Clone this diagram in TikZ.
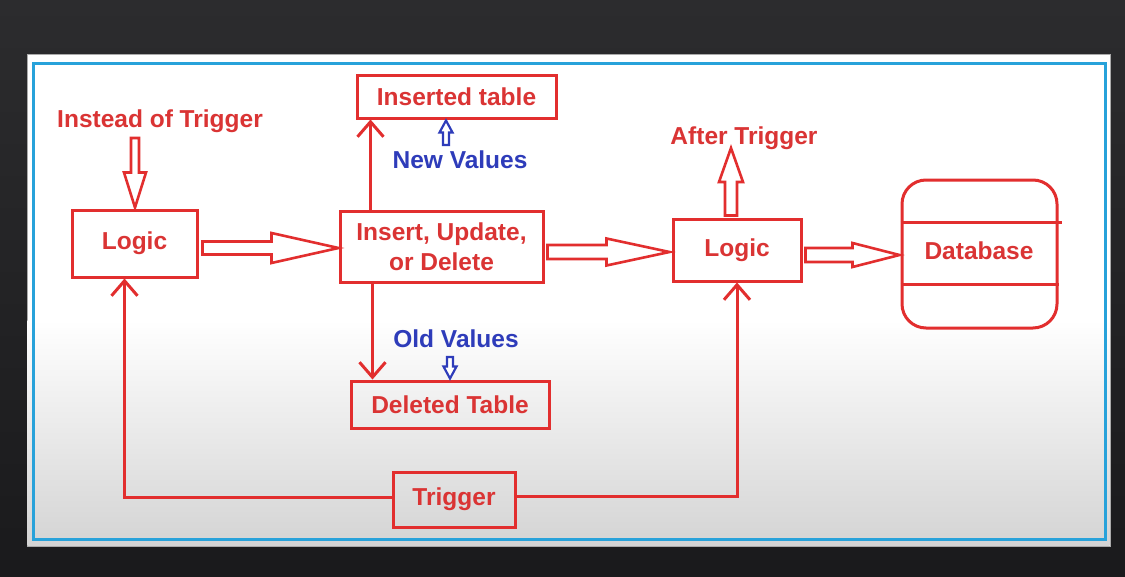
\documentclass[tikz,border=0pt]{standalone}
\usepackage{fontspec}
\setmainfont{Liberation Sans}
\usetikzlibrary{arrows.meta,calc}
\definecolor{dred}{RGB}{226,46,46}
\definecolor{tred}{RGB}{218,52,52}
\definecolor{dblue}{RGB}{46,60,186}
\definecolor{frameblue}{RGB}{40,162,218}
\definecolor{bgtop}{RGB}{44,44,46}
\definecolor{bgbot}{RGB}{26,26,28}
\definecolor{panelgray}{RGB}{212,212,212}
\newcommand\holarrow[6]{%
  \draw[#6] let \p1=(#1), \p2=(#2), \p3=($(#2)!#5!(#1)$) in
  ($(\p1)!#3!90:(\p2)$) -- ($(\p3)!#3!90:(\p2)$) -- ($(\p3)!#4!90:(\p2)$) -- (\p2)
  -- ($(\p3)!#4!-90:(\p2)$) -- ($(\p3)!#3!-90:(\p2)$) -- ($(\p1)!#3!-90:(\p2)$) -- cycle;}
\tikzset{
  box/.style={draw=dred, line width=3pt, inner sep=0pt, text=tred,
    font=\bfseries\fontsize{24.5}{30}\selectfont, align=center},
  lbl/.style={inner sep=0pt, text=tred, font=\bfseries\fontsize{24.5}{30}\selectfont},
  blbl/.style={inner sep=0pt, text=dblue, font=\bfseries\fontsize{24.5}{30}\selectfont},
  hol/.style={draw=dred, line width=2.6pt, line join=miter, fill=white},
  bhol/.style={draw=dblue, line width=2.2pt, line join=miter, fill=white},
  barb/.style={draw=dred, line width=3pt, -{Straight Barb[length=15pt,width=26pt]}},
  conn/.style={draw=dred, line width=3pt}
}
\begin{document}
\begin{tikzpicture}[x=1pt,y=-1pt]
\useasboundingbox (0,0) rectangle (1125,576);
% background
\shade[top color=bgtop, bottom color=bgbot] (0,0) rectangle (1125,576);
\fill[white, draw={rgb,255:red,170;green,170;blue,170}, line width=1pt] (27,54) rectangle (1110,546);
\shade[top color=white, bottom color=panelgray] (27.5,320) rectangle (1109.5,545.5);
\draw[frameblue, line width=3pt] (33,63) rectangle (1105,539);

% nodes
\node[box, minimum width=125pt, minimum height=67pt] (logicA) at (134.5,243.5) {Logic};
\node[box, minimum width=203pt, minimum height=71pt] (iud) at (441.5,246.5) {Insert, Update,\\or Delete};
\node[box, minimum width=199pt, minimum height=43pt] (ins) at (456.5,96.5) {Inserted table};
\node[box, minimum width=198pt, minimum height=47pt] (del) at (450,404.5) {Deleted Table};
\node[box, minimum width=128pt, minimum height=62pt] (logicB) at (737,250) {Logic};
\node[box, minimum width=155pt, minimum height=148pt, rounded corners=24pt] (db) at (979.5,254) {};
\node[lbl] (dbtxt) at (979,251) {Database};
\node[box, minimum width=122pt, minimum height=55pt] (trig) at (454,499.5) {Trigger};

\node[lbl] (lblInstead) at (160,121) {Instead of Trigger};
\node[lbl] (lblAfter) at (744,138) {After Trigger};
\node[blbl] (lblNew) at (460,160) {New Values};
\node[blbl] (lblOld) at (456,339) {Old Values};

% database lines
\draw[conn] ([yshift=32pt]db.west) -- ([shift={(3pt,32pt)}]db.east);
\draw[conn] ([yshift=-30pt]db.west) -- ([yshift=-30pt]db.east);

% hollow arrows
\coordinate (a1s) at ([shift={(4pt,-4.5pt)}]logicA.east);
\coordinate (a1t) at (a1s -| iud.west);
\holarrow{a1s}{a1t}{6.5pt}{15pt}{67pt}{hol}
\coordinate (a2s) at ([shift={(3pt,-5.5pt)}]iud.east);
\coordinate (a2t) at ([xshift=-2pt]a2s -| logicB.west);
\holarrow{a2s}{a2t}{7pt}{13.5pt}{63pt}{hol}
\coordinate (a3s) at ([shift={(3pt,-5pt)}]logicB.east);
\coordinate (a3t) at ([xshift=-1pt]a3s -| db.west);
\holarrow{a3s}{a3t}{7pt}{12pt}{47pt}{hol}
\coordinate (a4s) at (135,138);
\coordinate (a4t) at ([yshift=1pt]a4s |- logicA.north);
\holarrow{a4s}{a4t}{4pt}{11pt}{35pt}{hol}
\coordinate (a5s) at ([yshift=2pt]logicB.north -| 731,0);
\coordinate (a5t) at (731,148);
\holarrow{a5s}{a5t}{6pt}{12pt}{34pt}{hol}
\coordinate (a6s) at (446,145);
\coordinate (a6t) at ([yshift=-1pt]a6s |- ins.south);
\holarrow{a6s}{a6t}{3pt}{6.5pt}{12pt}{bhol}
\coordinate (a7s) at (450,357);
\coordinate (a7t) at ([yshift=1pt]a7s |- del.north);
\holarrow{a7s}{a7t}{3pt}{6.5pt}{12pt}{bhol}

% thin connectors with open heads
\draw[barb] ([xshift=32pt]iud.north west) -- ([xshift=32pt]iud.north west |- ins.south);
\draw[barb] ([xshift=34pt]iud.south west) -- ([xshift=34pt]iud.south west |- del.north);
\draw[barb] ([yshift=2pt]trig.west) -| ([xshift=-10pt]logicA.south);
\draw[barb] ([yshift=3pt]trig.east) -| (logicB.south);
\end{tikzpicture}
\end{document}
